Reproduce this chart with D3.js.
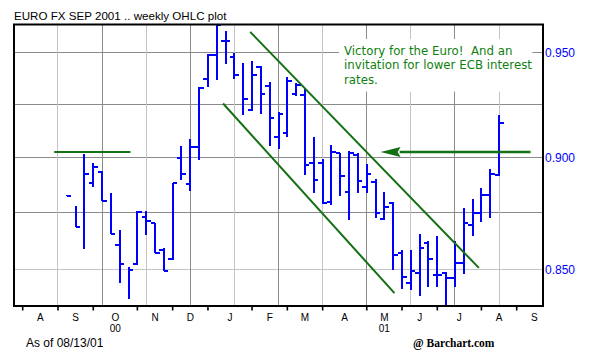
<!DOCTYPE html>
<html><head><meta charset="utf-8">
<script src="https://cdn.jsdelivr.net/npm/d3@7"></script>
<style>
html,body{margin:0;padding:0;background:#fff;}
svg{display:block;}
</style></head><body>
<svg id="chart" width="600" height="353"></svg>
<script>
// ---------------- data ----------------
const chartTitle = "EURO FX SEP 2001 .. weekly OHLC plot";
const firstWeek = "2000-09-11";
const lastWeek  = "2001-08-20";
// weekly OHLC (open null = no open tick shown)
const opens  = [null,null,null,0.8886,0.8936,null,0.8607,null,0.8523,0.8732,0.8703,0.8585,0.8544,0.8997,0.8879,0.9051,0.9370,0.9487,0.9556,0.9476,null,0.9223,0.9431,0.9335,0.9095,0.9114,0.9300,0.9295,0.8977,0.8977,0.8800,0.9021,0.8845,0.9012,0.8868,0.8891,0.8721,0.8795,0.8571,0.8442,0.8483,0.8617,0.8475,0.8483,0.8461,0.8529,0.8696,0.8750,0.8830,0.8921];
const highs  = [0.8827,0.8780,0.9013,0.8975,0.8936,0.8838,0.8669,0.8507,0.8755,0.8755,0.8703,0.8593,0.8884,0.9051,0.9083,0.9330,0.9487,0.9637,0.9600,0.9495,0.9447,0.9455,0.9431,0.9354,0.9211,0.9380,0.9351,0.9319,0.9094,0.8990,0.9059,0.9021,0.9028,0.9021,0.8967,0.8899,0.8841,0.8795,0.8582,0.8582,0.8651,0.8622,0.8644,0.8485,0.8622,0.8770,0.8811,0.8861,0.8947,0.9195];
const lows   = [0.8827,0.8688,0.8593,0.8868,0.8803,0.8656,0.8442,0.8374,0.8523,0.8651,0.8573,0.8494,0.8544,0.8902,0.8850,0.8990,0.9335,0.9370,0.9447,0.9375,0.9203,0.9223,0.9208,0.9055,0.9044,0.9098,0.9290,0.8921,0.8841,0.8793,0.8785,0.8826,0.8718,0.8841,0.8841,0.8730,0.8718,0.8500,0.8417,0.8413,0.8388,0.8424,0.8424,0.8345,0.8427,0.8483,0.8647,0.8710,0.8730,0.8917];
const closes = [0.8827,0.8688,0.8926,0.8959,0.8803,0.8656,0.8523,0.8497,0.8755,0.8715,0.8573,0.8494,0.8884,0.8924,0.9051,0.9327,0.9487,0.9633,0.9556,0.9391,0.9277,0.9388,0.9300,0.9187,0.9205,0.9359,0.9343,0.8967,0.8899,0.8795,0.9028,0.8917,0.9024,0.8894,0.8926,0.8750,0.8777,0.8563,0.8468,0.8494,0.8593,0.8544,0.8475,0.8461,0.8526,0.8703,0.8750,0.8830,0.8926,0.9164];

const priceLabels = [0.950, 0.900, 0.850];
const gridPrices  = [0.950, 0.925, 0.900, 0.875, 0.850];
const axisMonthsFrom = "2000-08-01", axisMonthsTo = "2001-10-01";
const yearLabels = [["2000-10-01","00"],["2001-05-01","01"]];

// annotation lines (date, price)
const resistanceLine = [["2000-09-01T00:00Z",0.9027],["2000-10-31T12:00Z",0.9027]];
const upperChannel   = [["2001-02-03T12:00Z",0.9600],["2001-08-04T00:00Z",0.8506]];
const lowerChannel   = [["2001-01-13T00:00Z",0.9254],["2001-05-29T00:00Z",0.8397]];
const arrowLine      = [["2001-09-14T00:00Z",0.9027],["2001-05-18T00:00Z",0.9027]];
const noteLines = ["Victory for the Euro!  And an","invitation for lower ECB interest","rates."];
const asOfText = "As of 08/13/01";
const creditText = "@ Barchart.com";

// ---------------- layout ----------------
const svg = d3.select("#chart");
const frame = {left:14, right:543, top:24.5, bottom:306};
const x = d3.scaleUtc()
  .domain([new Date(Date.UTC(2000,7,7)), new Date(Date.UTC(2001,8,3))])
  .range([22.7, 516.7]);
const y = d3.scaleLog().domain([0.95, 0.85]).range([52.3, 269.3]);

const weeks = d3.utcMonday.range(new Date(firstWeek+"T00:00Z"), d3.timeDay.offset(new Date(lastWeek+"T00:00Z"),1));
const bars = weeks.map((d,i)=>({date:d, o:opens[i], h:highs[i], l:lows[i], c:closes[i]}));

svg.append("rect").attr("width",600).attr("height",353).attr("fill","#fff");

// gridlines
const gridG = svg.append("g").attr("shape-rendering","crispEdges");
gridG.selectAll("line.h").data(gridPrices).join("line")
  .attr("x1",frame.left).attr("x2",frame.right)
  .attr("y1",d=>y(d)).attr("y2",d=>y(d))
  .attr("stroke",(d,i)=> i===gridPrices.length-1 ? "#c4c4c4" : "#8a8a8a").attr("stroke-width",1);
const gridWeeks = d3.utcMonday.range(new Date(Date.UTC(2000,8,4)), new Date(Date.UTC(2001,7,21)), 5);
gridG.selectAll("line.v").data(gridWeeks).join("line")
  .attr("x1",d=>x(d)).attr("x2",d=>x(d))
  .attr("y1",frame.top).attr("y2",frame.bottom)
  .attr("stroke",(d,i)=> i%2===0 ? "#c4c4c4" : "#8a8a8a").attr("stroke-width",1);

// annotation note with white box
const noteG = svg.append("g");
const noteBox = noteG.append("rect").attr("fill","#fff");
const noteText = noteG.append("text")
  .attr("font-family","'DejaVu Sans', Verdana, sans-serif").attr("font-size",11.8)
  .attr("fill","#0f7f0f").style("white-space","pre");
noteLines.forEach((t,i)=>{
  noteText.append("tspan").attr("x",344).attr("y",55 + i*14.3).text(t);
});
const bb = noteText.node().getBBox();
noteBox.attr("x",bb.x-5).attr("y",bb.y-5).attr("width",bb.width+5).attr("height",bb.height+10);

// OHLC bars
const barG = svg.append("g").attr("stroke","#0000ff").attr("stroke-width",2).attr("shape-rendering","crispEdges");
const tick = 4.5;
bars.forEach(b=>{
  const cx = x(b.date);
  barG.append("line").attr("x1",cx).attr("x2",cx).attr("y1",y(b.h)-0.5).attr("y2",y(b.l)+0.5);
  if (b.o!==null) barG.append("line").attr("x1",cx-tick).attr("x2",cx).attr("y1",y(b.o)).attr("y2",y(b.o));
  barG.append("line").attr("x1",cx).attr("x2",cx+tick).attr("y1",y(b.c)).attr("y2",y(b.c));
});

// green annotation lines
const green = "#137013";
const lineG = svg.append("g").attr("stroke",green).attr("stroke-width",2).attr("fill","none");
[resistanceLine, upperChannel, lowerChannel].forEach(seg=>{
  lineG.append("line")
    .attr("x1",x(new Date(seg[0][0]))).attr("y1",y(seg[0][1]))
    .attr("x2",x(new Date(seg[1][0]))).attr("y2",y(seg[1][1]));
});
// arrow
{
  const xs = x(new Date(arrowLine[0][0])), xt = x(new Date(arrowLine[1][0])), ya = y(arrowLine[0][1]);
  const headLen = 20, headHalf = 5;
  lineG.append("line").attr("x1",xs).attr("x2",xt+headLen-1).attr("y1",ya).attr("y2",ya).attr("stroke-width",2.5);
  svg.append("path").attr("fill",green)
    .attr("d",`M${xt},${ya} L${xt+headLen},${ya-headHalf} L${xt+headLen-3},${ya} L${xt+headLen},${ya+headHalf} Z`);
}

// frame
svg.append("rect").attr("x",frame.left).attr("y",frame.top)
  .attr("width",frame.right-frame.left).attr("height",frame.bottom-frame.top)
  .attr("fill","none").attr("stroke","#000").attr("stroke-width",2);

// title
svg.append("text").attr("x",14).attr("y",20.3)
  .attr("font-family","'Liberation Sans', Arial, sans-serif").attr("font-size",11.6)
  .attr("fill","#000").text(chartTitle);

// right price axis
const yAxis = d3.axisRight(y).tickValues(priceLabels).tickFormat(d3.format(".3f")).tickSize(0).tickPadding(2);
const yAxG = svg.append("g").attr("transform",`translate(${frame.right},0)`).call(yAxis);
yAxG.select(".domain").remove();
yAxG.selectAll("text").attr("fill","#0000ff")
  .attr("font-family","'Liberation Sans', Arial, sans-serif").attr("font-size",12);

// bottom month axis
const months = d3.utcMonth.range(new Date(axisMonthsFrom+"T00:00Z"), new Date(axisMonthsTo+"T00:00Z"));
const monthStarts = months.map(m=>d3.utcMonday.ceil(m));
const xAxG = svg.append("g");
xAxG.selectAll("line").data(monthStarts).join("line")
  .attr("x1",d=>x(d)).attr("x2",d=>x(d)).attr("y1",frame.bottom).attr("y2",frame.bottom+4.5)
  .attr("stroke","#000").attr("stroke-width",1.6);
const monthMid = m => {
  const a = d3.utcMonday.ceil(m), b = d3.utcMonday.ceil(d3.utcMonth.offset(m,1));
  return (x(a)+x(b))/2;
};
xAxG.selectAll("text").data(months).join("text")
  .attr("x",d=>monthMid(d)).attr("y",321).attr("text-anchor","middle")
  .attr("font-family","'Liberation Sans', Arial, sans-serif").attr("font-size",10)
  .attr("fill","#000").text(d=>d3.utcFormat("%b")(d)[0]);
yearLabels.forEach(([m,t])=>{
  svg.append("text").attr("x",monthMid(new Date(m+"T00:00Z"))).attr("y",331.7).attr("text-anchor","middle")
    .attr("font-family","'Liberation Sans', Arial, sans-serif").attr("font-size",10)
    .attr("fill","#000").text(t);
});

// footer
svg.append("text").attr("x",26).attr("y",346.7)
  .attr("font-family","'Liberation Sans', Arial, sans-serif").attr("font-size",12)
  .attr("fill","#000").text(asOfText);
svg.append("text").attr("x",413).attr("y",346.7)
  .attr("font-family","'Liberation Serif', 'Times New Roman', serif").attr("font-size",11.5)
  .attr("font-weight","bold").attr("fill","#000").text(creditText);
</script>
</body></html>
